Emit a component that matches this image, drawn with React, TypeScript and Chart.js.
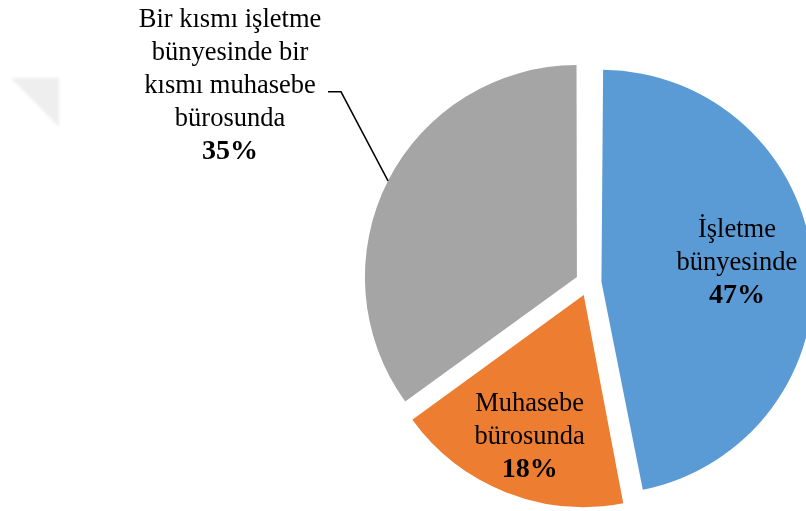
import { useEffect, useRef } from "react";
import { Chart, registerables } from "chart.js";

Chart.register(...registerables);

// ---- data ----
const categories = [
  "İşletme bünyesinde",
  "Muhasebe bürosunda",
  "Bir kısmı işletme bünyesinde bir kısmı muhasebe bürosunda",
];
const labelLines = [
  ["İşletme", "bünyesinde"],
  ["Muhasebe", "bürosunda"],
  ["Bir kısmı işletme", "bünyesinde bir", "kısmı muhasebe", "bürosunda"],
];
const values = [47, 18, 35];
const colors = ["#5B9BD5", "#ED7D31", "#A5A5A5"];

// ---- style ----
const EXPLODE = 13; // visual translation in px
const RADIUS = 212;
const FONT_SIZE = 26.5;
const BOLD_SIZE = 28;
const LINE_H = 32.8;
const FONT_FAMILY = "'Liberation Serif', 'Times New Roman', serif";

type Placement =
  | { kind: "inside"; r: number; dAng: number; dy: number }
  | { kind: "outside"; elbowDx: number; elbowDy: number; tail: number; textDx: number; textDy: number };

const placements: Placement[] = [
  { kind: "inside", r: 0.646, dAng: -3, dy: 1 },
  { kind: "inside", r: 0.708, dAng: -0.5, dy: 2 },
  { kind: "outside", elbowDx: -47, elbowDy: -89, tail: 13, textDx: -158, textDy: -95 },
];

const decorationPlugin = {
  id: "decoration",
  beforeDraw(chart: any) {
    const ctx = chart.ctx as CanvasRenderingContext2D;
    ctx.save();
    ctx.filter = "blur(1.5px)";
    ctx.fillStyle = "#eeeeee";
    ctx.beginPath();
    ctx.moveTo(11, 78);
    ctx.lineTo(59, 78);
    ctx.lineTo(59, 127);
    ctx.closePath();
    ctx.fill();
    ctx.restore();
  },
};

const radiusFixPlugin = {
  id: "radiusFix",
  afterDatasetUpdate(chart: any) {
    const meta = chart.getDatasetMeta(0);
    meta.data.forEach((el: any) => {
      const circ = el.endAngle - el.startAngle;
      const fix = 1 - Math.sin(Math.min(Math.PI, circ));
      el.outerRadius = RADIUS - EXPLODE * fix;
    });
  },
};

const labelPlugin = {
  id: "sliceLabels",
  afterDatasetsDraw(chart: any) {
    const ctx = chart.ctx as CanvasRenderingContext2D;
    const meta = chart.getDatasetMeta(0);
    meta.data.forEach((el: any, i: number) => {
      const { x, y, startAngle, endAngle } = el;
      const mid = (startAngle + endAngle) / 2;
      const cx = x + Math.cos(mid) * EXPLODE;
      const cy = y + Math.sin(mid) * EXPLODE;
      const p = placements[i];
      let lx = 0;
      let ly = 0;
      if (p.kind === "inside") {
        const a = mid + (p.dAng * Math.PI) / 180;
        lx = cx + Math.cos(a) * RADIUS * p.r;
        ly = cy + Math.sin(a) * RADIUS * p.r + p.dy;
      } else {
        const px = cx + Math.cos(mid) * RADIUS;
        const py = cy + Math.sin(mid) * RADIUS;
        const ex = px + p.elbowDx;
        const ey = py + p.elbowDy;
        ctx.save();
        ctx.strokeStyle = "#000";
        ctx.lineWidth = 1.5;
        ctx.beginPath();
        ctx.moveTo(px, py);
        ctx.lineTo(ex, ey);
        ctx.lineTo(ex - p.tail, ey);
        ctx.stroke();
        ctx.restore();
        lx = px + p.textDx;
        ly = py + p.textDy;
      }
      const lines = [...labelLines[i], values[i] + "%"];
      const n = lines.length;
      ctx.save();
      ctx.fillStyle = "#000";
      ctx.textAlign = "center";
      ctx.textBaseline = "middle";
      lines.forEach((t, k) => {
        const bold = k === n - 1;
        ctx.font = `${bold ? "bold " : ""}${bold ? BOLD_SIZE : FONT_SIZE}px ${FONT_FAMILY}`;
        ctx.fillText(t, lx, ly + (k - (n - 1) / 2) * LINE_H);
      });
      ctx.restore();
    });
  },
};

export default function App() {
  const ref = useRef<HTMLCanvasElement | null>(null);
  useEffect(() => {
    document.body.style.margin = "0";
    const canvas = ref.current;
    if (!canvas) return;
    const chart = new Chart(canvas, {
      type: "pie",
      data: {
        labels: categories,
        datasets: [
          {
            data: values,
            backgroundColor: colors,
            borderWidth: 0,
            offset: EXPLODE * 4,
            hoverOffset: 0,
            clip: false,
          } as any,
        ],
      },
      options: {
        responsive: false,
        animation: false,
        radius: RADIUS,
        rotation: 0,
        layout: { padding: { left: 371, right: 0, top: 55, bottom: 0 } },
        plugins: {
          legend: { display: false },
          tooltip: { enabled: false },
          title: { display: false },
        },
        events: [],
      } as any,
      plugins: [decorationPlugin, radiusFixPlugin, labelPlugin],
    });
    return () => chart.destroy();
  }, []);
  return (
    <div style={{ position: "absolute", left: 0, top: 0, width: 806, height: 511, overflow: "hidden", background: "#fff" }}>
      <canvas ref={ref} width={806} height={511} style={{ width: 806, height: 511, display: "block" }} />
    </div>
  );
}
